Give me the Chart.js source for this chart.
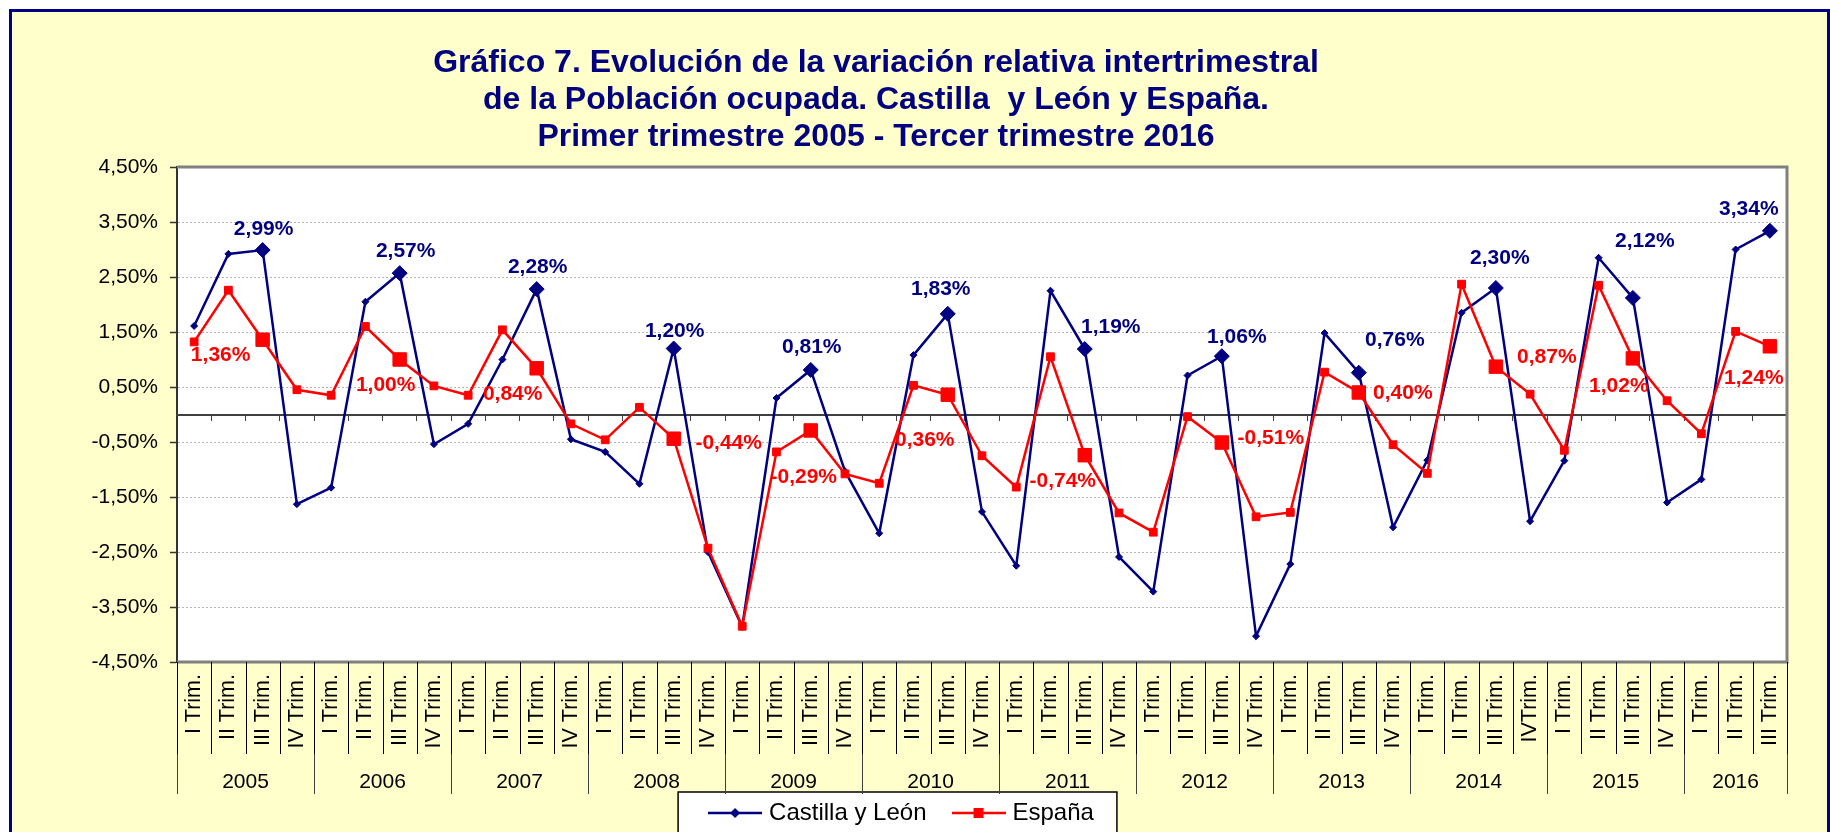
<!DOCTYPE html>
<html lang="es">
<head>
<meta charset="utf-8">
<title>Gráfico 7</title>
<script src="https://cdn.jsdelivr.net/npm/chart.js@4.4.1/dist/chart.umd.min.js"></script>
<style>
  html, body { margin: 0; padding: 0; background: #fff; overflow: hidden; width: 1830px; height: 832px; }
  #marco { position: absolute; left: 9px; top: 9px; width: 1815px; height: 900px; border: 3px solid #000080; background: #ffffcc; }
  #grafico { position: absolute; left: 0; top: 0; }
  #titulo { position: absolute; left: 0; top: 43px; width: 1752px; text-align: center; font: bold 32px "Liberation Sans", Arial, sans-serif; line-height: 37px; color: #000080; white-space: pre; }
</style>
</head>
<body>
<div id="marco"></div>
<canvas id="grafico" width="1830" height="835"></canvas>
<div id="titulo">Gráfico 7. Evolución de la variación relativa intertrimestral<br>de la Población ocupada. Castilla  y León y España.<br>Primer trimestre 2005 - Tercer trimestre 2016</div>
<script>
const years = ['2005', '2006', '2007', '2008', '2009', '2010', '2011', '2012', '2013', '2014', '2015', '2016'];
const quartersPerYear = [4, 4, 4, 4, 4, 4, 4, 4, 4, 4, 4, 3];
const quarterLabels = [
	'I Trim.', 'II Trim.', 'III Trim.', 'IV Trim.',   // 2005
	'I Trim.', 'II Trim.', 'III Trim.', 'IV Trim.',   // 2006
	'I Trim.', 'II Trim.', 'III Trim.', 'IV Trim.',   // 2007
	'I Trim.', 'II Trim.', 'III Trim.', 'IV Trim.',   // 2008
	'I Trim.', 'II Trim.', 'III Trim.', 'IV Trim.',   // 2009
	'I Trim.', 'II Trim.', 'III Trim.', 'IV Trim.',   // 2010
	'I Trim.', 'II Trim.', 'III Trim.', 'IV Trim.',   // 2011
	'I Trim.', 'II Trim.', 'III Trim.', 'IV Trim.',   // 2012
	'I Trim.', 'II Trim.', 'III Trim.', 'IV Trim.',   // 2013
	'I Trim.', 'II Trim.', 'III Trim.', 'IVTrim.',    // 2014
	'I Trim.', 'II Trim.', 'III Trim.', 'IV Trim.',   // 2015
	'I Trim.', 'II Trim.', 'III Trim.'                // 2016
];

// variacion intertrimestral (%)
const castillaLeon = [
	1.61, 2.92, 2.99, -1.63,
	-1.33, 2.05, 2.57, -0.54,
	-0.17, 1.00, 2.28, -0.45,
	-0.68, -1.26, 1.20, -2.50,
	-3.86, 0.30, 0.81, -1.03,
	-2.16, 1.08, 1.83, -1.77,
	-2.75, 2.25, 1.19, -2.59,
	-3.22, 0.71, 1.06, -4.03,
	-2.72, 1.48, 0.76, -2.05,
	-0.83, 1.85, 2.30, -1.94,
	-0.84, 2.85, 2.12, -1.60,
	-1.18, 3.00, 3.34
];
const espana = [
	1.32, 2.26, 1.36, 0.45,
	0.35, 1.60, 1.00, 0.52,
	0.35, 1.54, 0.84, -0.17,
	-0.46, 0.13, -0.44, -2.43,
	-3.85, -0.68, -0.29, -1.08,
	-1.25, 0.53, 0.36, -0.75,
	-1.32, 1.05, -0.74, -1.79,
	-2.14, -0.04, -0.51, -1.86,
	-1.78, 0.77, 0.40, -0.55,
	-1.07, 2.37, 0.87, 0.37,
	-0.65, 2.35, 1.02, 0.25,
	-0.35, 1.51, 1.24
];

// desplazamiento de las etiquetas de valor (III trimestre) respecto al punto
const labelOffsets = [
	[[1, -21], [6, -22], [1, -22], [1, -17], [1, -23], [-7, -25], [26, -22], [15, -19], [36, -32], [4, -30], [12, -57], [-21, -22]],
	[[-42, 16], [-14, 26], [-24, 26], [55, 5], [-7, 47], [-23, 46], [-22, 26], [49, -4], [44, 1], [51, -9], [-14, 28], [-16, 32]]
];

const FAMILY = '"Liberation Sans", Arial, sans-serif';
const fmt = v => v.toFixed(2).replace('.', ',') + '%';
const isThird = i => quarterLabels[i].startsWith('III');
const highlighted = quarterLabels.map((l, i) => i).filter(isThird);

const yearCenters = [];
const yearBounds = [0];
quartersPerYear.reduce((start, n) => {
	yearCenters.push(start + (n - 1) / 2);
	yearBounds.push(start + n);
	return start + n;
}, 0);

function legendSymbol(color, shape) {
	const c = document.createElement('canvas');
	c.width = 54;
	c.height = 16;
	const g = c.getContext('2d');
	g.strokeStyle = color;
	g.fillStyle = color;
	g.lineWidth = 2.5;
	g.beginPath();
	g.moveTo(0, 8);
	g.lineTo(54, 8);
	g.stroke();
	if (shape === 'rombo') {
		g.beginPath();
		g.moveTo(27, 3);
		g.lineTo(32, 8);
		g.lineTo(27, 13);
		g.lineTo(22, 8);
		g.closePath();
		g.fill();
	} else {
		g.fillRect(22, 3, 10, 10);
	}
	return c;
}
const legendSymbols = [legendSymbol('#000080', 'rombo'), legendSymbol('#ff0000', 'cuadro')];

const plotFrame = {
	id: 'plotFrame',
	beforeDraw(chart) {
		const {ctx, chartArea: a} = chart;
		ctx.save();
		ctx.fillStyle = '#ffffff';
		ctx.fillRect(a.left, a.top, a.width, a.height);
		const hb = chart.legend.legendHitBoxes;
		if (hb && hb.length) {
			const first = hb[0], last = hb[hb.length - 1];
			const x0 = first.left - 35, x1 = last.left + last.width + 23, y0 = first.top - 9;
			ctx.fillRect(x0, y0, x1 - x0, 80);
			ctx.strokeStyle = '#000000';
			ctx.lineWidth = 1.5;
			ctx.strokeRect(x0, y0, x1 - x0, 80);
		}
		ctx.restore();
	},
	beforeDatasetsDraw(chart) {
		const {ctx, chartArea: a, scales} = chart;
		ctx.save();
		ctx.strokeStyle = '#808080';
		ctx.lineWidth = 3;
		ctx.beginPath();
		ctx.moveTo(a.left, a.top);
		ctx.lineTo(a.right, a.top);
		ctx.lineTo(a.right, a.bottom);
		ctx.lineTo(a.left, a.bottom);
		ctx.stroke();

		// separadores de trimestres y de años bajo el eje
		const q = scales.x;
		const step = q.width / quarterLabels.length;
		ctx.lineWidth = 1;
		ctx.strokeStyle = '#000000';
		ctx.beginPath();
		for (let i = 0; i <= quarterLabels.length; i++) {
			const px = Math.round(q.left + i * step) + 0.5;
			ctx.moveTo(px, q.top);
			ctx.lineTo(px, q.bottom);
		}
		ctx.stroke();
		ctx.strokeStyle = '#404040';
		ctx.beginPath();
		yearBounds.forEach(b => {
			const px = Math.round(q.left + b * step) + 0.5;
			ctx.moveTo(px, q.bottom);
			ctx.lineTo(px, q.bottom + 40);
		});
		ctx.stroke();
		ctx.restore();
	}
};

const valueLabels = {
	id: 'valueLabels',
	afterDatasetsDraw(chart) {
		const {ctx} = chart;
		ctx.save();
		ctx.font = 'bold 21px ' + FAMILY;
		ctx.textAlign = 'center';
		ctx.textBaseline = 'middle';
		chart.data.datasets.forEach((ds, d) => {
			const meta = chart.getDatasetMeta(d);
			ctx.fillStyle = ds.borderColor;
			highlighted.forEach((idx, k) => {
				const pt = meta.data[idx];
				const off = labelOffsets[d][k];
				ctx.fillText(fmt(ds.data[idx]), pt.x + off[0], pt.y + off[1]);
			});
		});
		ctx.restore();
	}
};

new Chart(document.getElementById('grafico'), {
	type: 'line',
	data: {
		labels: quarterLabels,
		datasets: [{
			label: 'Castilla y León',
			data: castillaLeon,
			order: 1,
			borderColor: '#000080',
			backgroundColor: '#000080',
			borderWidth: 2.5,
			pointStyle: 'rectRot',
			pointRadius: c => isThird(c.dataIndex) ? 7.5 : 3.5,
			pointBorderWidth: 1,
			tension: 0
		}, {
			label: 'España',
			data: espana,
			order: 0,
			borderColor: '#ff0000',
			backgroundColor: '#ff0000',
			borderWidth: 2.5,
			pointStyle: 'rect',
			pointRadius: c => isThird(c.dataIndex) ? 9.5 : 5.5,
			pointBorderWidth: 1,
			tension: 0
		}]
	},
	options: {
		responsive: false,
		animation: false,
		events: [],
		layout: {padding: {left: 20, right: 43, top: 167, bottom: 0}},
		plugins: {
			title: {display: false},
			tooltip: {enabled: false},
			legend: {
				position: 'bottom',
				labels: {
					usePointStyle: true,
					pointStyleWidth: 44,
					padding: 30,
					color: '#000000',
					font: {size: 24, family: FAMILY},
					generateLabels: chart => chart.data.datasets.map((ds, i) => ({
						text: ds.label,
						pointStyle: legendSymbols[i],
						fillStyle: ds.borderColor,
						strokeStyle: ds.borderColor,
						lineWidth: 0,
						hidden: false,
						datasetIndex: i
					}))
				}
			}
		},
		scales: {
			y: {
				min: -4.5,
				max: 4.5,
				afterFit: s => { s.width = 157; },
				ticks: {stepSize: 1, callback: v => fmt(v), color: '#000000', padding: 12, font: {size: 21, family: FAMILY}},
				grid: {color: '#b4b4b4', lineWidth: 1, tickLength: 7, tickColor: '#333333', tickWidth: 1.5, tickBorderDash: []},
				border: {display: true, color: '#333333', width: 2, dash: [2, 2]}
			},
			x: {
				offset: true,
				weight: 0,
				afterFit: s => { s.height = 92; },
				grid: {display: false, drawTicks: false, offset: true},
				border: {display: false},
				ticks: {autoSkip: false, minRotation: 90, maxRotation: 90, padding: 12, color: '#000000', font: {size: 21.5, family: FAMILY}}
			},
			x0: {
				type: 'category',
				axis: 'x',
				position: {y: 0},
				offset: true,
				grid: {display: true, drawOnChartArea: false, drawTicks: true, tickLength: 5, offset: true, color: '#404040', tickColor: '#404040', lineWidth: 1},
				border: {display: true, color: '#404040', width: 2},
				ticks: {display: false}
			},
			anios: {
				type: 'linear',
				axis: 'x',
				position: 'bottom',
				weight: 1,
				min: -0.5,
				max: quarterLabels.length - 0.5,
				afterBuildTicks: s => { s.ticks = yearCenters.map(v => ({value: v})); },
				afterFit: s => { s.height = 17; },
				grid: {display: false, drawTicks: false},
				border: {display: false},
				// mirror: las etiquetas no se recortan a la caja de 17 px
				ticks: {autoSkip: false, maxRotation: 0, mirror: true, padding: -41, color: '#000000', font: {size: 21, family: FAMILY}, callback: (v, i) => years[i]}
			}
		}
	},
	plugins: [plotFrame, valueLabels]
});
</script>
</body>
</html>
